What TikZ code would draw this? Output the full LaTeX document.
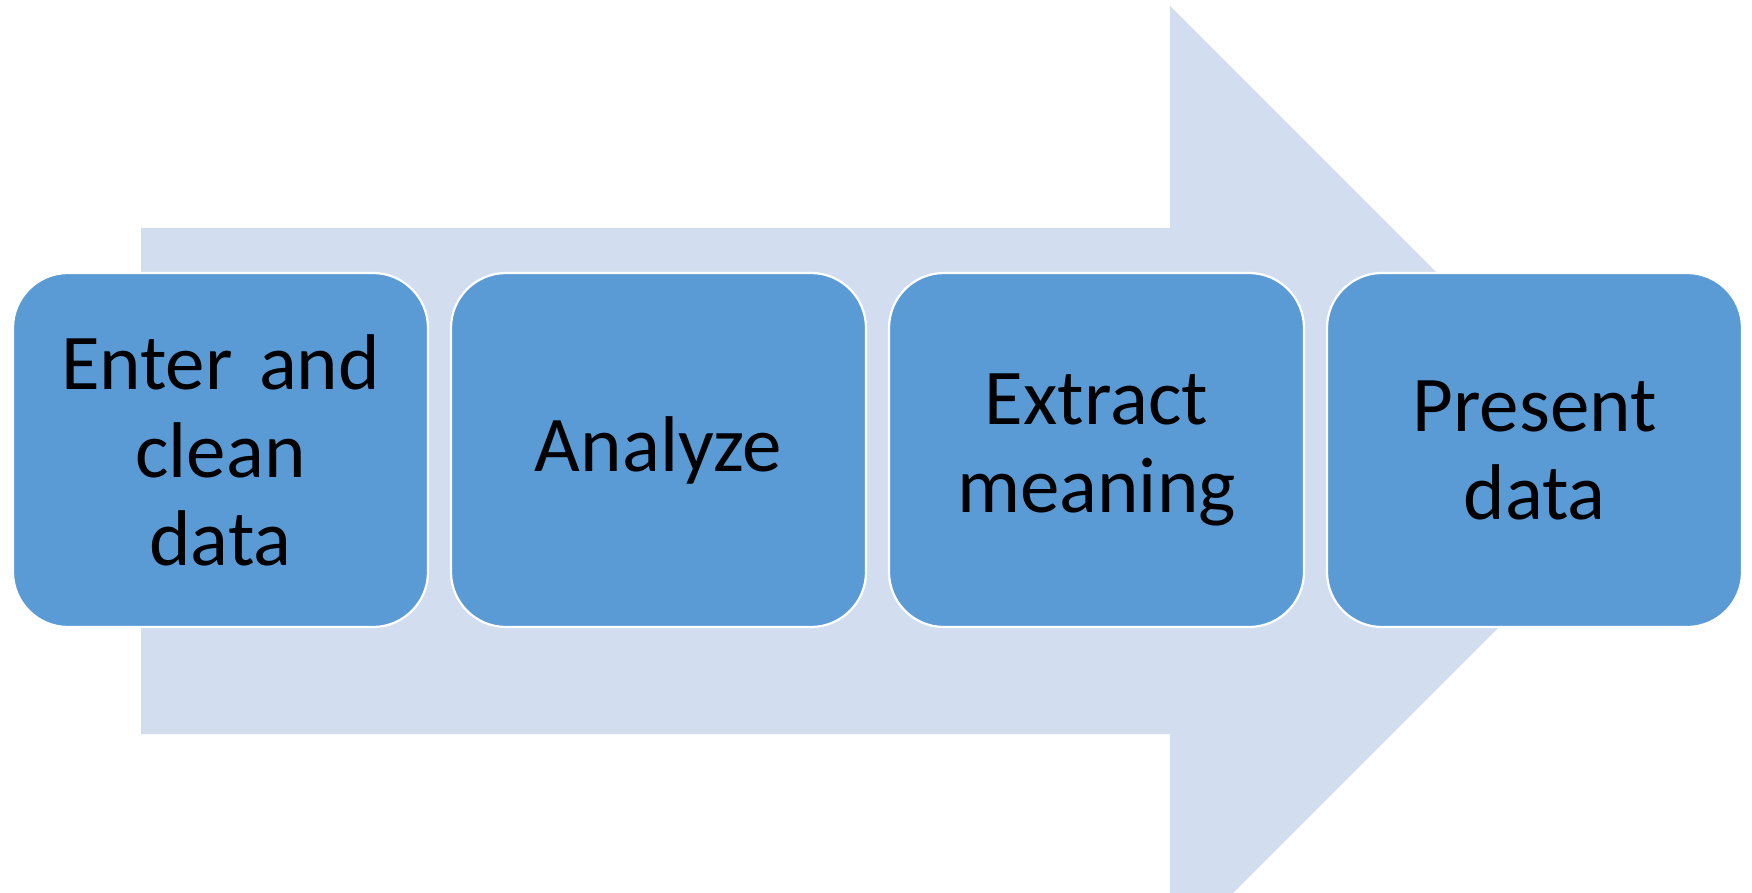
\documentclass[tikz,border=0pt]{standalone}
\usepackage{fontspec}
\setmainfont{Carlito}
\definecolor{boxblue}{HTML}{5B9BD5}
\definecolor{arrowblue}{HTML}{D2DEEF}
\begin{document}
\begin{tikzpicture}[x=0.5pt,y=-0.5pt,
  stagebox/.style={rectangle, rounded corners=27.5pt, fill=boxblue, draw=white, line width=1.1pt,
    minimum width=207.5pt, minimum height=177pt, inner sep=0pt, text width=200pt, align=center,
    text=black, font=\fontsize{39.5}{44}\selectfont}]
\useasboundingbox (0,0) rectangle (1752,893);
\begin{scope}
\clip (0,0) rectangle (1752,893);
\fill[arrowblue] (141,228) -- (1170,228) -- (1170,6) -- (1645,481) -- (1170,956) -- (1170,734) -- (141,734) -- cycle;
\end{scope}
\node[stagebox] (s1) at (220.5,450) {Enter and\\clean\\data};
\node[stagebox] (s2) at (658.5,450) {Analyze};
\node[stagebox] (s3) at (1096.5,450) {Extract\\meaning};
\node[stagebox] (s4) at (1534.5,450) {Present\\data};
\end{tikzpicture}
\end{document}
